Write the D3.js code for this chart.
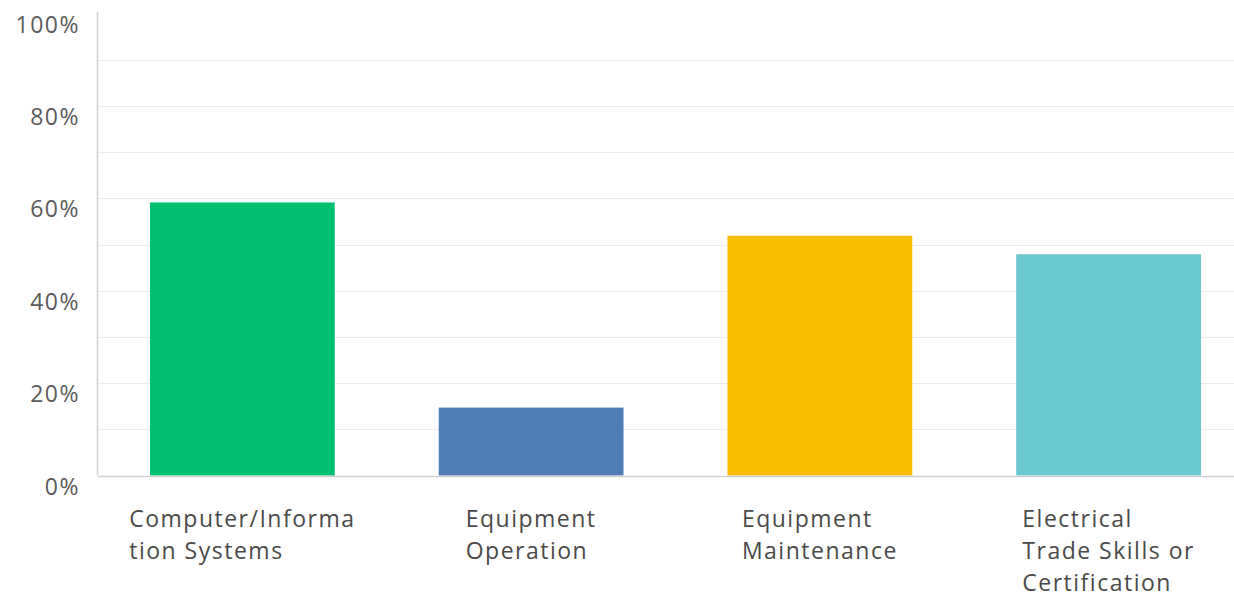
<!DOCTYPE html>
<html>
<head>
<meta charset="utf-8">
<script src="https://cdn.jsdelivr.net/npm/d3@7"></script>
<style>
  html, body { margin: 0; padding: 0; background: #fff; }
  svg { display: block; font-family: "Open Sans", sans-serif; }
  .ylab { fill: #5b5b5b; font-size: 23px; letter-spacing: 1.5px; }
  .xlab { fill: #4a4a4a; font-size: 23px; letter-spacing: 1.5px; }
</style>
</head>
<body>
<div id="chart"></div>
<script>
// categories, wrapped label lines and values (share of respondents)
const categories = ["Computer/Information Systems", "Equipment Operation", "Equipment Maintenance", "Electrical Trade Skills or Certification"];
const labelLines = [
  ["Computer/Informa", "tion Systems"],
  ["Equipment", "Operation"],
  ["Equipment", "Maintenance"],
  ["Electrical", "Trade Skills or", "Certification"]
];
const values = [0.591, 0.147, 0.519, 0.479];
const colors = ["#00bf6f", "#507cb6", "#f9be00", "#6bc8cd"];
const yTicks = [0, 0.2, 0.4, 0.6, 0.8, 1.0];
const gridTicks = d3.range(0, 11).map(d => d / 10);

const width = 1234, height = 598;
const svg = d3.select("#chart").append("svg")
  .attr("width", width).attr("height", height);

const x0 = 98, yBase = 475.5, yTop = 13.5;

const y = d3.scaleLinear().domain([0, 1]).range([yBase, yTop]);
const x = d3.scaleBand()
  .domain(categories)
  .range([x0, 1253])
  .paddingInner(0.36)
  .paddingOuter(0.18);

// grid lines every 10%
svg.append("g")
  .selectAll("line")
  .data(gridTicks.filter(d => d > 0 && d < 1))
  .join("line")
  .attr("x1", x0).attr("x2", width)
  .attr("y1", d => Math.round(y(d)) + 0.5)
  .attr("y2", d => Math.round(y(d)) + 0.5)
  .attr("stroke", "#ececec");

// y labels (sit a bit below their grid line)
svg.append("g")
  .selectAll("text")
  .data(yTicks)
  .join("text")
  .attr("class", "ylab")
  .attr("x", 80)
  .attr("y", d => y(d) + 11)
  .attr("dy", "0.35em")
  .attr("text-anchor", "end")
  .text(d3.format(".0%"));

// bars
svg.append("g")
  .selectAll("rect")
  .data(values)
  .join("rect")
  .attr("x", (d, i) => x(categories[i]))
  .attr("y", d => y(d))
  .attr("width", x.bandwidth())
  .attr("height", d => yBase - y(d))
  .attr("fill", (d, i) => colors[i]);

// axis lines
svg.append("line")
  .attr("x1", x0 - 0.5).attr("x2", x0 - 0.5)
  .attr("y1", 12).attr("y2", yBase)
  .attr("stroke", "#d0d0d0").attr("stroke-width", 1.5);
svg.append("line")
  .attr("x1", x0).attr("x2", width)
  .attr("y1", Math.round(yBase) + 0.5).attr("y2", Math.round(yBase) + 0.5)
  .attr("stroke", "#d0d0d0").attr("stroke-width", 1.5);

// x labels: block centred under bar, lines left-aligned
const lab = svg.append("g")
  .selectAll("text")
  .data(categories)
  .join("text")
  .attr("class", "xlab")
  .attr("y", 519);

lab.selectAll("tspan")
  .data((d, i) => labelLines[i])
  .join("tspan")
  .attr("x", 0)
  .attr("dy", (d, j) => j === 0 ? "0.35em" : "32px")
  .text(d => d);

lab.each(function(d) {
  const w = this.getBBox().width;
  const left = x(d) + x.bandwidth() / 2 - w / 2;
  d3.select(this).selectAll("tspan").attr("x", left);
});
</script>
</body>
</html>
